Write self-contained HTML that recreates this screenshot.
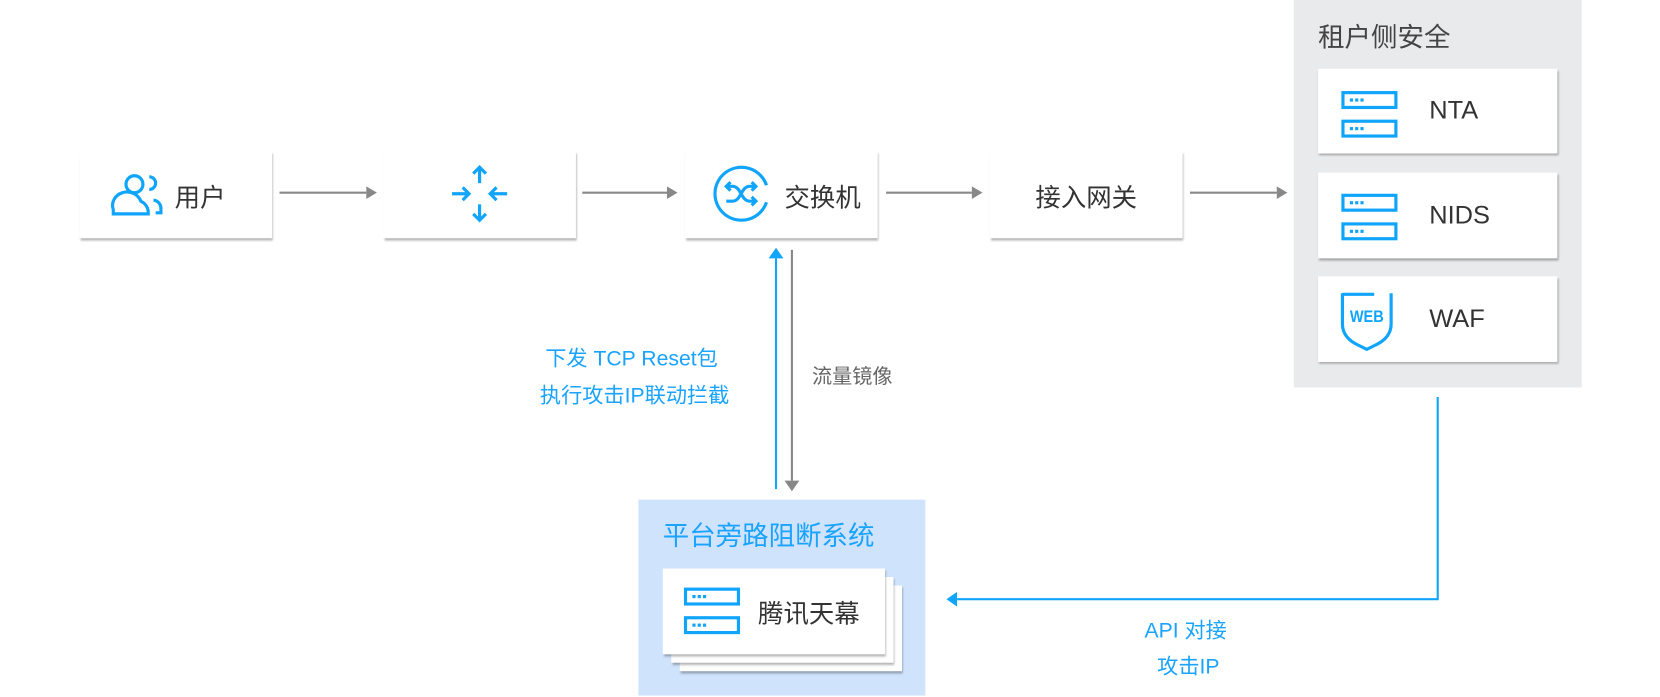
<!DOCTYPE html>
<html><head><meta charset="utf-8"><style>
*{margin:0;padding:0;box-sizing:border-box}
body{width:1660px;height:696px;background:#fff;position:relative;overflow:hidden;font-family:"Liberation Sans","Noto Sans CJK SC",sans-serif;color:#333}
#w{position:absolute;left:0;top:0;width:1568px;height:658px;transform:scale(1.0587);transform-origin:0 0}
.card{position:absolute;background:#fff;box-shadow:1px 2px 2px rgba(0,0,0,0.3);display:flex;align-items:center}
.t{position:absolute;white-space:nowrap}
svg{position:absolute;left:0;top:0}
</style></head><body><div id="w">
<div style="position:absolute;left:1222px;top:0;width:272px;height:366px;background:#e9eaec"></div>
<div class="t" style="left:1245px;top:16px;font-size:25px;color:#444">租户侧安全</div>
<div style="position:absolute;left:603px;top:472px;width:271px;height:185px;background:#cfe3fc"></div>
<div class="t" style="left:626px;top:487px;font-size:25px;color:#1aa3ff">平台旁路阻断系统</div>

<div class="card" style="left:75px;top:143px;width:182px;height:82px"><span style="position:absolute;left:90px;font-size:24px">用户</span></div>
<div class="card" style="left:362px;top:143px;width:182px;height:82px"></div>
<div class="card" style="left:647px;top:143px;width:182px;height:82px"><span style="position:absolute;left:94px;font-size:24px">交换机</span></div>
<div class="card" style="left:935px;top:143px;width:182px;height:82px;justify-content:center"><span style="font-size:24px">接入网关</span></div>

<div class="card" style="left:1245px;top:65px;width:226px;height:80px"><span style="position:absolute;left:105px;font-size:24px">NTA</span></div>
<div class="card" style="left:1245px;top:163px;width:226px;height:81px"><span style="position:absolute;left:105px;font-size:24px">NIDS</span></div>
<div class="card" style="left:1245px;top:261px;width:226px;height:81px"><span style="position:absolute;left:105px;font-size:24px">WAF</span></div>

<div class="card" style="left:642px;top:553px;width:210px;height:81px"></div>
<div class="card" style="left:634px;top:545px;width:210px;height:81px"></div>
<div class="card" style="left:626px;top:537px;width:210px;height:81px"><span style="position:absolute;left:90px;font-size:24px">腾讯天幕</span></div>

<div class="t" style="left:515px;top:322px;font-size:20px;color:#1aa3ff">下发 TCP Reset包</div>
<div class="t" style="left:510px;top:357px;font-size:20px;color:#1aa3ff">执行攻击IP联动拦截</div>
<div class="t" style="left:767px;top:341px;font-size:19px;color:#666">流量镜像</div>
<div class="t" style="left:1081px;top:579px;font-size:20px;color:#1aa3ff">API 对接</div>
<div class="t" style="left:1093px;top:613px;font-size:20px;color:#1aa3ff">攻击IP</div>

<svg width="1568" height="658">
<defs>
<g id="srv"><rect x="1.5" y="1.5" width="50" height="14" fill="none" stroke="#10a5fb" stroke-width="3"/><rect x="1.5" y="28.5" width="50" height="14" fill="none" stroke="#10a5fb" stroke-width="3"/><g fill="#10a5fb"><rect x="8" y="7" width="3" height="3"/><rect x="13" y="7" width="3" height="3"/><rect x="18" y="7" width="3" height="3"/><rect x="8" y="34" width="3" height="3"/><rect x="13" y="34" width="3" height="3"/><rect x="18" y="34" width="3" height="3"/></g></g>
</defs>
<g stroke="#888" stroke-width="2" fill="#888">
<line x1="264" y1="182" x2="346" y2="182"/><polygon points="346,176 356,182 346,188" stroke="none"/>
<line x1="550" y1="182" x2="630" y2="182"/><polygon points="630,176 640,182 630,188" stroke="none"/>
<line x1="837" y1="182" x2="918" y2="182"/><polygon points="918,176 928,182 918,188" stroke="none"/>
<line x1="1124" y1="182" x2="1206" y2="182"/><polygon points="1206,176 1216,182 1206,188" stroke="none"/>
<line x1="748" y1="236" x2="748" y2="454"/><polygon points="741,454 748,464 755,454" stroke="none"/>
</g>
<g stroke="#10a5fb" stroke-width="2" fill="#10a5fb">
<line x1="733" y1="244" x2="733" y2="462"/><polygon points="726,244 733,234 740,244" stroke="none"/>
<polyline points="1358,375 1358,566 904,566" fill="none"/><polygon points="904,559 894,566 904,573" stroke="none"/>
</g>
<g fill="none" stroke="#10a5fb" stroke-width="3">
<circle cx="127" cy="174" r="8"/>
<path d="M107,202 v-4 a13,12 0 0 1 26,-8 a13,12 0 0 1 7,10 v2 z"/>
<path d="M141,167 a6,6 0 0 1 0,12"/>
<path d="M145,189 a8,8 0 0 1 7,7 v5 h-5"/>
</g>
<g stroke="#10a5fb" stroke-width="3" fill="none">
<line x1="453" y1="158" x2="453" y2="173"/><polyline points="447,164 453,158 459,164"/>
<line x1="453" y1="193" x2="453" y2="208"/><polyline points="447,202 453,208 459,202"/>
<line x1="427" y1="183" x2="443" y2="183"/><polyline points="437,177 443,183 437,189"/>
<line x1="463" y1="183" x2="479" y2="183"/><polyline points="469,177 463,183 469,189"/>
</g>
<g stroke="#10a5fb" stroke-width="3" fill="none" transform="translate(-42,0)">
<path d="M766,175 A25,25 0 1 0 766,191"/>
<path d="M728,176 h6 c8,0 8,14 16,14 h6"/><path d="M728,190 h6 c8,0 8,-14 16,-14 h6"/>
<polyline points="752,172 756,176 752,180"/><polyline points="752,186 756,190 752,194"/>
<polyline points="732,172 728,176 732,180"/>
</g>
<use href="#srv" x="1267" y="86"/>
<use href="#srv" x="1267" y="183"/>
<use href="#srv" x="646" y="555"/>
<g stroke="#10a5fb" stroke-width="3" fill="none">
<path d="M1268,277 v29 q0,13 15,20 l8,4 l8,-4 q15,-7 15,-20 v-29"/>
<line x1="1268" y1="278" x2="1298" y2="278"/>
</g>
<text x="1291" y="304" text-anchor="middle" font-family="Liberation Sans" font-weight="bold" font-size="16" fill="#10a5fb" textLength="32" lengthAdjust="spacingAndGlyphs">WEB</text>
</svg>
</div></body></html>
